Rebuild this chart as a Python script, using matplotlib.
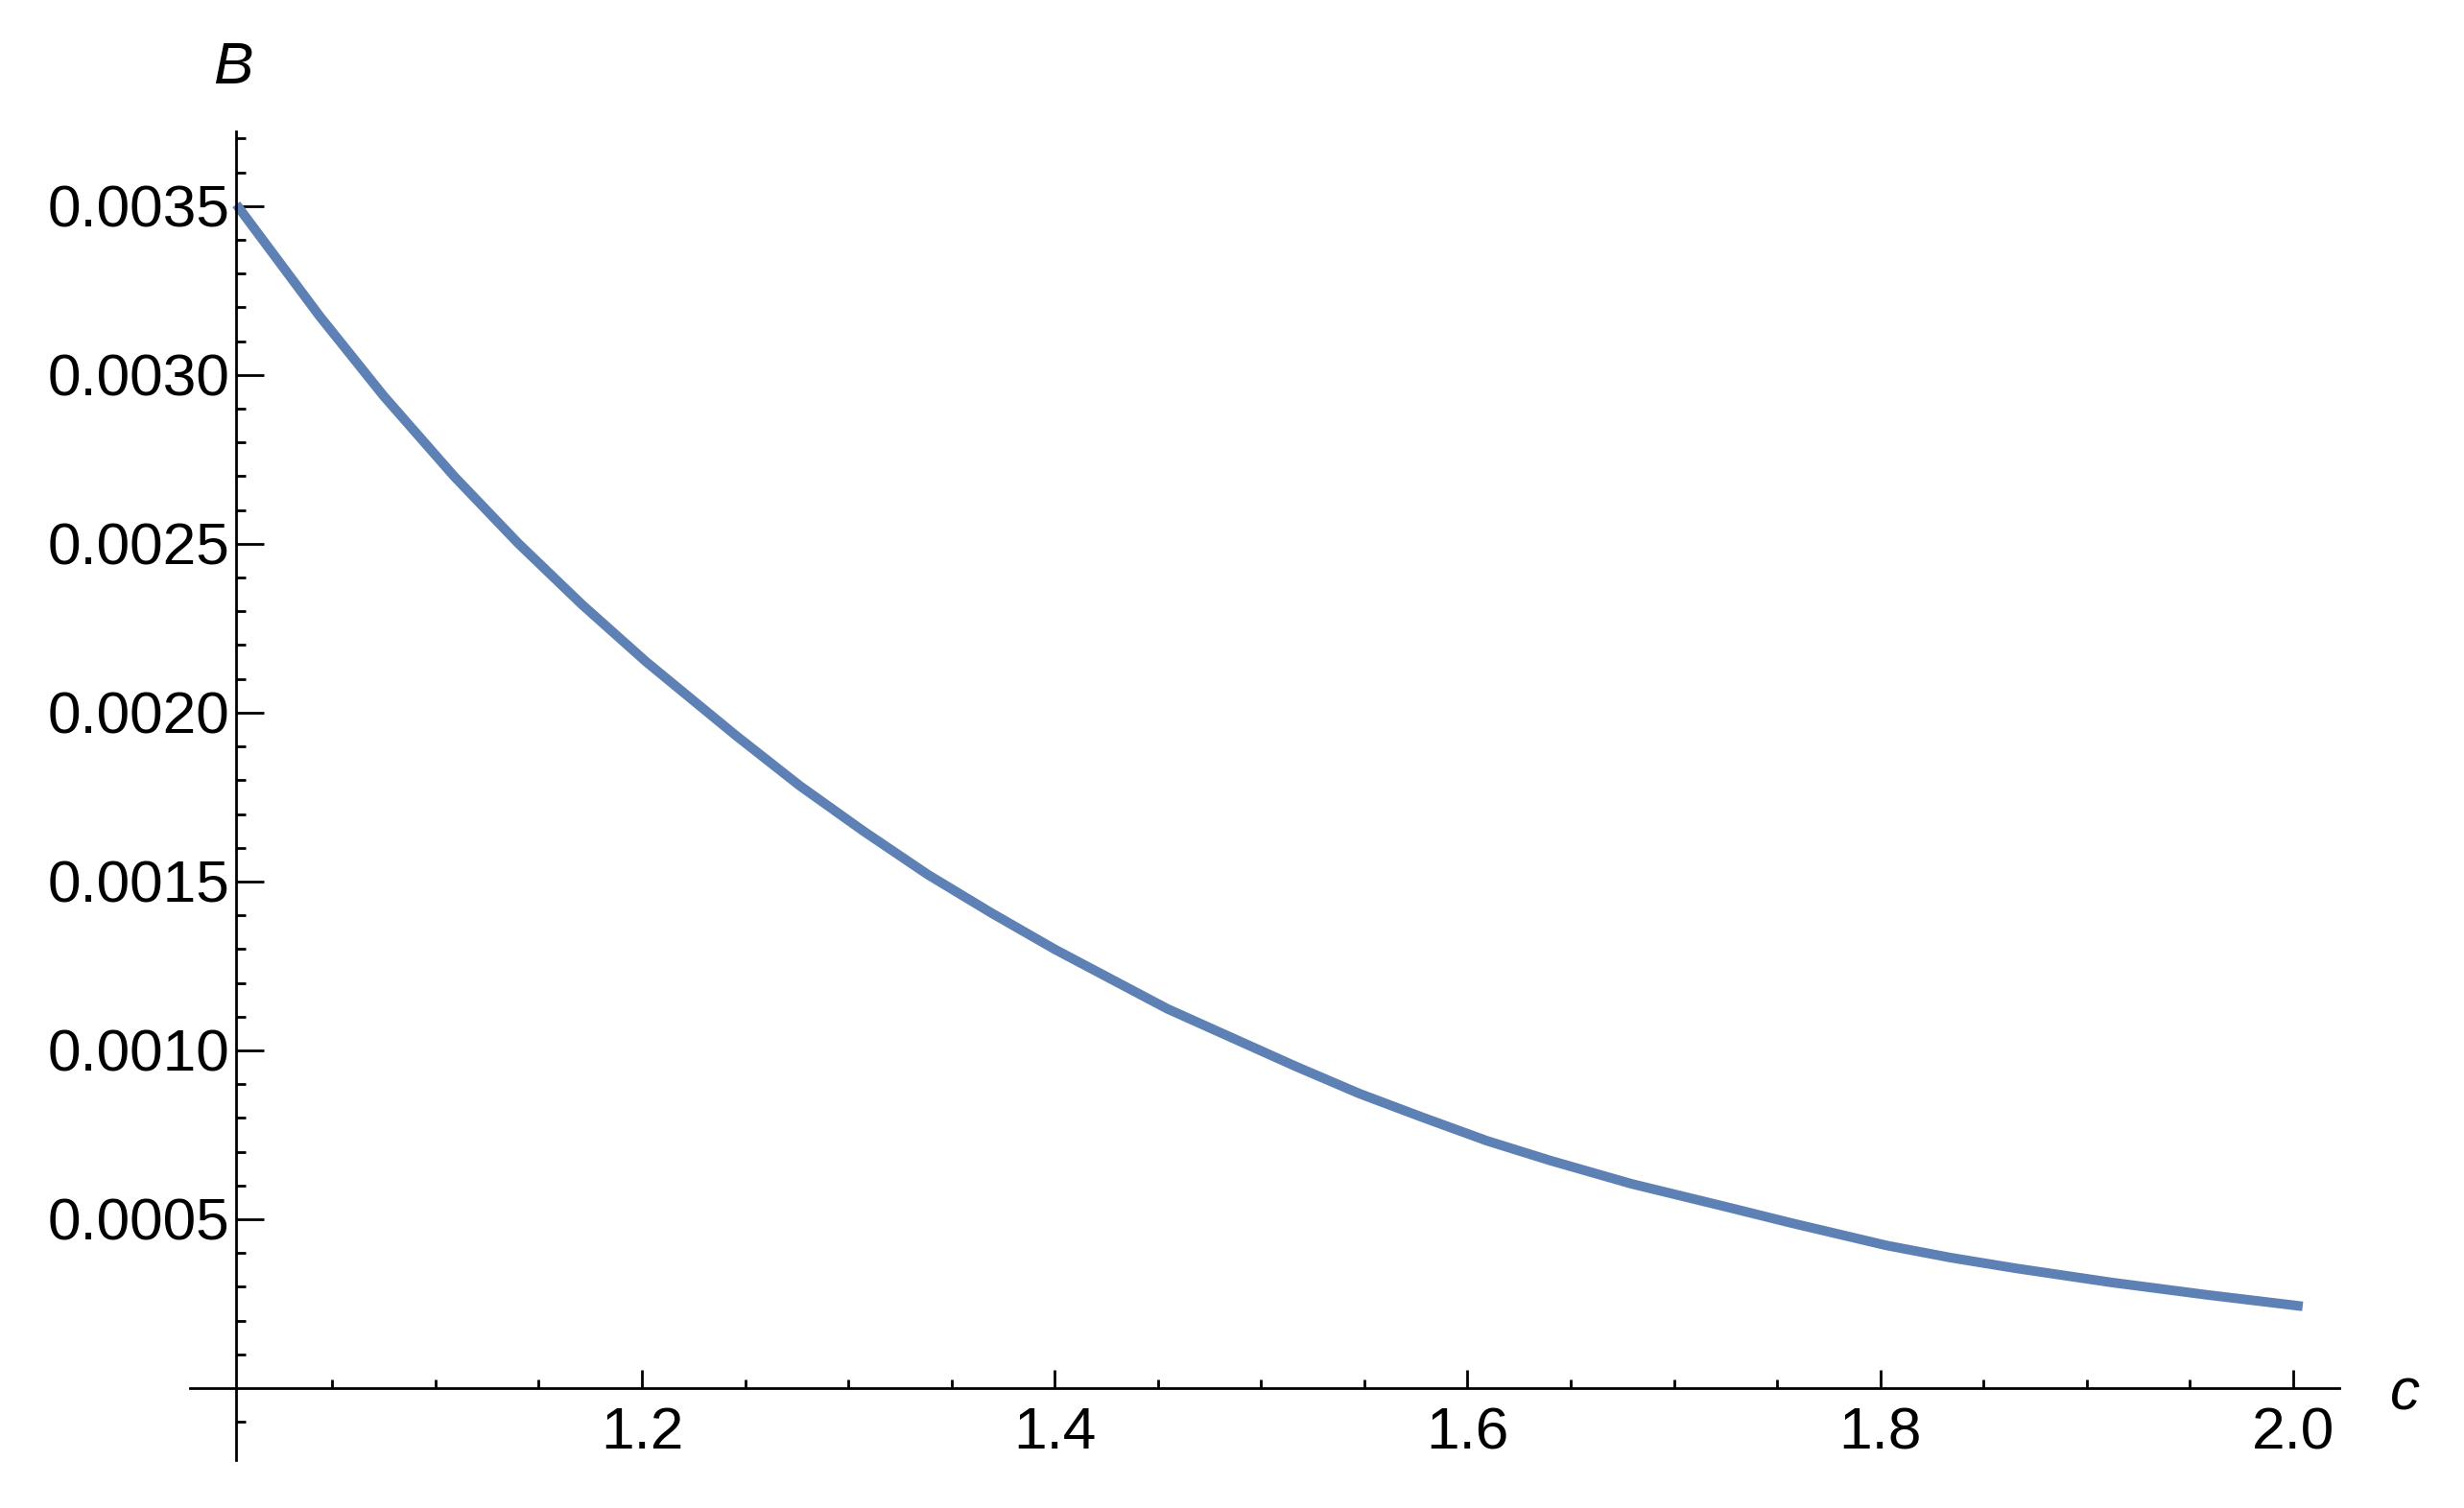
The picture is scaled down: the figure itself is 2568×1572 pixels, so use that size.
import matplotlib

matplotlib.use("Agg")
import matplotlib.pyplot as plt

plt.rcParams["font.family"] = ["Liberation Sans", "DejaVu Sans"]

# curve B(c)
c_vals = [1.0035, 1.0439, 1.0750, 1.1090, 1.1400, 1.1710, 1.2020, 1.2454,
          1.2764, 1.3074, 1.3384, 1.3693, 1.4004, 1.4546, 1.5166, 1.5476,
          1.5785, 1.6095, 1.6405, 1.6793, 1.7257, 1.7567, 1.8032, 1.8342,
          1.8652, 1.9117, 1.9582, 2.0046]
b_vals = [0.003505, 0.003174, 0.002937, 0.002700, 0.002502, 0.002320,
          0.002151, 0.001933, 0.001784, 0.001649, 0.001521, 0.001407,
          0.001298, 0.001123, 0.000953, 0.000872, 0.000801, 0.000732,
          0.000673, 0.000605, 0.000536, 0.000489, 0.000422, 0.000386,
          0.000355, 0.000313, 0.000276, 0.000242]

x_major = [1.2, 1.4, 1.6, 1.8, 2.0]
x_major_labels = ["1.2", "1.4", "1.6", "1.8", "2.0"]
y_major = [0.0005, 0.0010, 0.0015, 0.0020, 0.0025, 0.0030, 0.0035]
y_major_labels = ["0.0005", "0.0010", "0.0015", "0.0020", "0.0025", "0.0030", "0.0035"]

# minor ticks: every 0.05 in c, every 0.0001 in B
x_minor = [round(1.0 + 0.05 * k, 2) for k in range(1, 21) if k % 4 != 0]
y_minor = [round(0.0001 * k, 4) for k in range(-1, 38) if k % 5 != 0]

LINE_BLUE = "#5E81B5"
ORIGIN_C = 1.0035
FS = 22.4

fig = plt.figure(figsize=(12.84, 7.86), dpi=200)
ax = fig.add_axes([0.07722, 0.03162, 0.87204, 0.88142])
ax.plot(c_vals, b_vals, color=LINE_BLUE, lw=3.6,
        solid_capstyle="butt", solid_joinstyle="round", clip_on=False)

ax.set_xlim(0.9812, 2.0222)
ax.set_ylim(-0.000214, 0.003722)

for side in ("top", "right"):
    ax.spines[side].set_visible(False)
ax.spines["left"].set_position(("data", ORIGIN_C))
ax.spines["bottom"].set_position(("data", 0.0))
for side in ("left", "bottom"):
    ax.spines[side].set_linewidth(1.0)

ax.set_xticks(x_major, x_major_labels)
ax.set_xticks(x_minor, minor=True)
ax.set_yticks(y_major, y_major_labels)
ax.set_yticks(y_minor, minor=True)

ax.tick_params(axis="y", which="major", direction="in", length=10.4,
               width=1.0, pad=2.5, labelsize=FS)
ax.tick_params(axis="y", which="minor", direction="in", length=3.6, width=1.0)
ax.tick_params(axis="x", which="major", direction="in", length=6.8,
               width=1.0, pad=7, labelsize=FS)
ax.tick_params(axis="x", which="minor", direction="in", length=3.2, width=1.0)

fig.text(243 / 2568, 1 - 87 / 1572, "B", style="italic", fontsize=FS,
         ha="center", va="baseline")
fig.text(2507 / 2568, 1 - 1470 / 1572, "c", style="italic", fontsize=FS,
         ha="center", va="baseline")

fig.savefig("out.png", dpi=200)
